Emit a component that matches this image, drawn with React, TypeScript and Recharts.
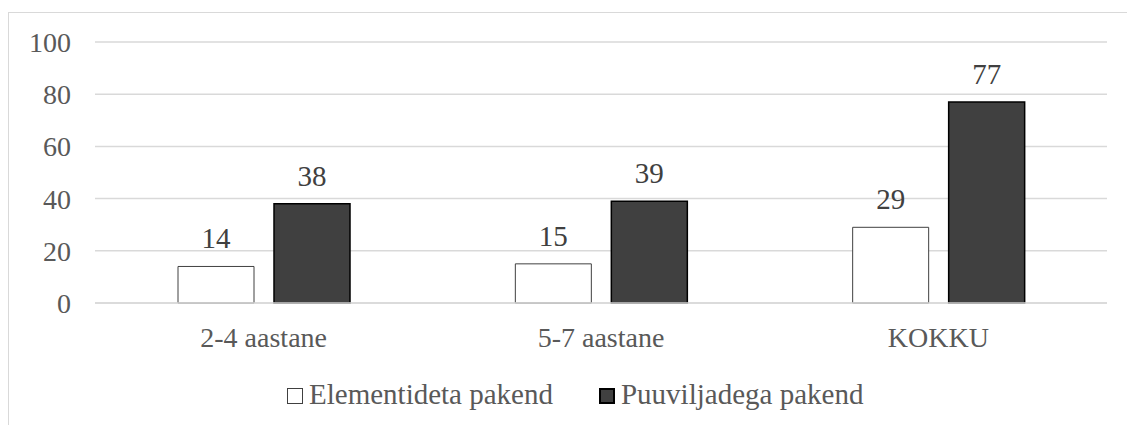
import React from "react";
import { BarChart, Bar, XAxis, YAxis, CartesianGrid, LabelList } from "recharts";

const categories = ["2-4 aastane", "5-7 aastane", "KOKKU"];
const elementideta = [14, 15, 29];
const puuviljadega = [38, 39, 77];
const seriesNames = ["Elementideta pakend", "Puuviljadega pakend"];
const yTicks = [0, 20, 40, 60, 80, 100];

const data = categories.map((c, i) => ({
  name: c,
  a: elementideta[i],
  b: puuviljadega[i],
}));

const FONT = '"Liberation Serif", "Times New Roman", serif';
const TEXT = "#595959";

export default function App() {
  return (
    <div
      style={{
        position: "absolute",
        left: 0,
        top: 0,
        width: 1127,
        height: 425,
        overflow: "hidden",
        background: "#fff",
        fontFamily: FONT,
      }}
    >
      <div
        style={{
          position: "absolute",
          left: 8,
          top: 12,
          width: 1300,
          height: 600,
          border: "1px solid #d9d9d9",
          boxSizing: "border-box",
        }}
      />
      <div style={{ position: "absolute", left: 0, top: 0 }}>
        <BarChart
          width={1127}
          height={425}
          data={data}
          margin={{ top: 42, right: 20, left: 35, bottom: 72 }}
          barSize={76}
          barGap={20}
        >
          <CartesianGrid vertical={false} stroke="#d9d9d9" strokeWidth={1.5} />
          <XAxis
            dataKey="name"
            height={50}
            tickLine={false}
            tickSize={0}
            tickMargin={24}
            axisLine={{ stroke: "#d9d9d9", strokeWidth: 1.5 }}
            tick={{ fill: TEXT, fontSize: 28, fontFamily: FONT }}
          />
          <YAxis
            width={60}
            domain={[0, 100]}
            ticks={yTicks}
            axisLine={false}
            tickLine={false}
            tickSize={0}
            tickMargin={24}
            tick={{ fill: TEXT, fontSize: 28, fontFamily: FONT }}
          />
          <Bar
            dataKey="a"
            name={seriesNames[0]}
            fill="#ffffff"
            stroke="#404040"
            strokeWidth={1}
            isAnimationActive={false}
          >
            <LabelList
              dataKey="a"
              position="top"
              offset={18}
              fill="#404040"
              fontSize={29}
              fontFamily={FONT}
            />
          </Bar>
          <Bar
            dataKey="b"
            name={seriesNames[1]}
            fill="#404040"
            stroke="#000000"
            strokeWidth={1.5}
            isAnimationActive={false}
          >
            <LabelList
              dataKey="b"
              position="top"
              offset={18}
              fill="#404040"
              fontSize={29}
              fontFamily={FONT}
            />
          </Bar>
        </BarChart>
      </div>
      <div
        style={{
          position: "absolute",
          left: 287,
          top: 376,
          display: "flex",
          alignItems: "center",
          fontSize: 29,
          color: TEXT,
          lineHeight: "36px",
          whiteSpace: "nowrap",
        }}
      >
        {seriesNames.map((n, i) => (
          <div
            key={n}
            style={{ display: "flex", alignItems: "center", marginRight: i === 0 ? 46 : 0 }}
          >
            <span
              style={{
                display: "inline-block",
                width: 16,
                height: 16,
                boxSizing: "border-box",
                background: i === 0 ? "#ffffff" : "#404040",
                border: i === 0 ? "1px solid #404040" : "2px solid #000",
                marginRight: 6,
                marginTop: 4,
              }}
            />
            <span>{n}</span>
          </div>
        ))}
      </div>
    </div>
  );
}
